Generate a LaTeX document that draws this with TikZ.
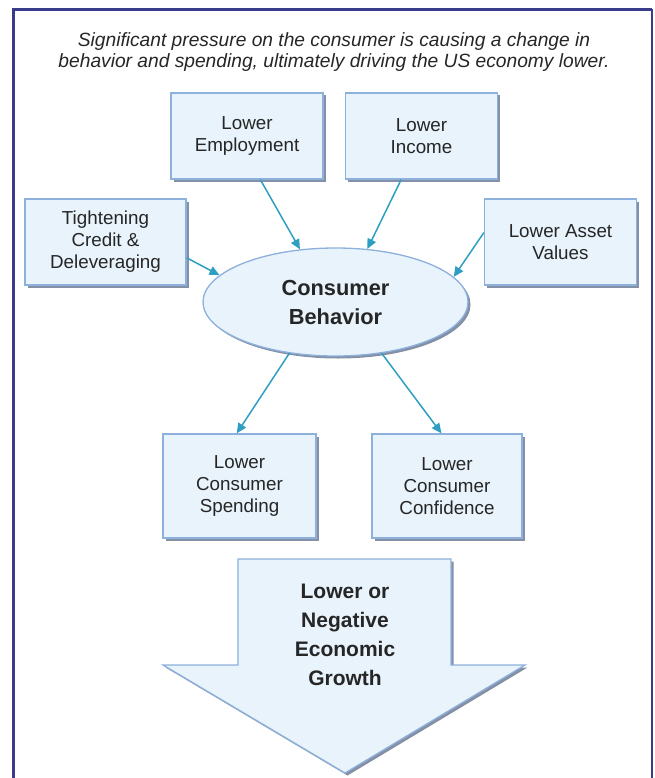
\documentclass[tikz,border=0pt]{standalone}
\usepackage{fontspec}
\setmainfont{Liberation Sans}
\usetikzlibrary{shapes.geometric,arrows.meta,shadows}

\definecolor{framec}{HTML}{3B3B8C}
\definecolor{boxfill}{HTML}{E8F3FB}
\definecolor{boxline}{HTML}{8DB0DC}
\definecolor{shadowc}{HTML}{6F7D96}
\definecolor{linkc}{HTML}{2E9EC2}
\definecolor{textc}{HTML}{262626}

\tikzset{
  softshadow/.style={drop shadow={shadow xshift=2.5pt, shadow yshift=-2.5pt, fill=shadowc, opacity=0.85}},
  factor/.style={draw=boxline, line width=1.3pt, fill=boxfill, softshadow,
    minimum width=152pt, minimum height=86pt, inner sep=0pt, align=center,
    text=textc, font=\fontsize{18.8}{22}\selectfont},
  hub/.style={ellipse, draw=boxline, line width=1.3pt, fill=boxfill, softshadow,
    minimum width=265pt, minimum height=108pt, inner sep=0pt, align=center,
    text=textc, font=\bfseries\fontsize{21.8}{29}\selectfont},
  link/.style={draw=linkc, line width=1.5pt, -{Triangle[length=10pt,width=9pt]}},
  bigarrow/.style={draw=boxline, line width=1.3pt, fill=boxfill, softshadow, line join=miter},
}

\begin{document}
\begin{tikzpicture}[x=1pt,y=-1pt]
  \useasboundingbox (0,0) rectangle (655,778);

  % outer frame, open at the bottom
  \draw[framec, line width=3.6pt] (13.3,780) -- (13.3,9.5) -- (652,9.5);
  \draw[framec, line width=2.4pt] (652,9.5) -- (652,780);

  % headline
  \node[text=textc, align=center, font=\itshape\fontsize{19.2}{20.5}\selectfont] (title) at (334,52)
    {Significant pressure on the consumer is causing a change in\\
     behavior and spending, ultimately driving the US economy lower.};

  % driving factors
  \node[factor] (emp)    at (247,136)   {Lower\\Employment};
  \node[factor] (inc)    at (421.5,136) {Lower\\Income};
  \node[factor, minimum width=161pt] (credit) at (105.5,242) {Tightening\\Credit \&\\Deleveraging};
  \node[factor] (asset)  at (560.5,242) {Lower Asset\\Values};

  % central ellipse
  \node[hub] (cb) at (335.5,302) {Consumer\\Behavior};

  % outcomes
  \node[factor, minimum width=153pt, minimum height=104pt] (spend) at (239.5,486) {Lower\\Consumer\\Spending};
  \node[factor, minimum width=150pt, minimum height=104pt] (conf)  at (447,486)   {Lower\\Consumer\\Confidence};

  % big downward arrow
  \path[bigarrow] (238,559) -- (451,559) -- (451,665) -- (525,665) -- (345,773)
    -- (163,665) -- (238,665) -- cycle;
  \node[text=textc, align=center, font=\bfseries\fontsize{21}{29}\selectfont] (growth) at (345,635)
    {Lower or\\Negative\\Economic\\Growth};

  % connectors
  \draw[link] (emp.-73)    -- (cb.124);
  \draw[link] (inc.-115.5) -- (cb.59.5);
  \draw[link] (credit.-11.6) -- (cb.167.3);
  \draw[link] (asset.173)  -- (cb.12.7);
  \draw[link] (cb.-132.8)  -- (spend.93);
  \draw[link] (cb.-48.4)   -- (conf.96.6);
\end{tikzpicture}
\end{document}
